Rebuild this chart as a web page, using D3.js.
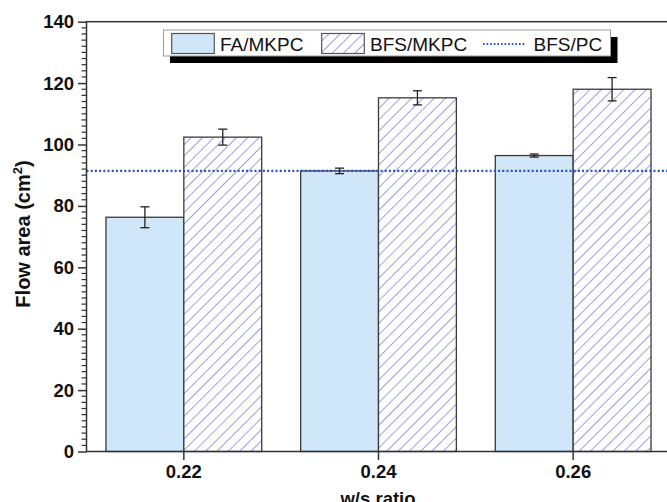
<!DOCTYPE html>
<html>
<head>
<meta charset="utf-8">
<script src="https://cdn.jsdelivr.net/npm/d3@7"></script>
<style>
  body { margin: 0; background: #fff; }
  svg { display: block; font-family: "Liberation Sans", Arial, sans-serif; }
</style>
</head>
<body>
<div id="chart"></div>
<script>
// data
const ratios = ["0.22", "0.24", "0.26"];
const series = ["FA/MKPC", "BFS/MKPC"];
const faValues = [76.3, 91.4, 96.4];
const faErrors = [3.4, 0.9, 0.5];
const bfsValues = [102.4, 115.2, 118.0];
const bfsErrors = [2.6, 2.3, 3.8];
const pcReference = 91.4;   // BFS/PC dotted line
const yTicks = [0, 20, 40, 60, 80, 100, 120, 140];

(function() {
  const width = 667, height = 502;
  const left = 86.5, right = 670.5, top = 21.7, bottom = 451.5;

  const svg = d3.select("#chart").append("svg")
    .attr("width", width)
    .attr("height", height);

  const defs = svg.append("defs");
  const hatch = defs.append("pattern")
    .attr("id", "hatch")
    .attr("patternUnits", "userSpaceOnUse")
    .attr("width", 8)
    .attr("height", 8)
    .attr("patternTransform", "rotate(45)");
  hatch.append("rect").attr("width", 8).attr("height", 8).attr("fill", "#fff");
  hatch.append("line")
    .attr("x1", 0).attr("y1", 0).attr("x2", 0).attr("y2", 8)
    .attr("stroke", "#3f3fc0")
    .attr("stroke-width", 1);

  const x = d3.scaleBand().domain(ratios).range([left, right]).padding(0);
  const xSub = d3.scaleBand().domain(series).range([0, x.bandwidth()])
    .paddingInner(0).paddingOuter(0.25);
  const y = d3.scaleLinear().domain([0, 140]).range([bottom, top]);

  const rows = ratios.map((r, i) => [
    { r, s: series[0], v: faValues[i], e: faErrors[i] },
    { r, s: series[1], v: bfsValues[i], e: bfsErrors[i] }
  ]).flat();

  const axisColor = "#333";

  // bars
  svg.append("g").selectAll("rect")
    .data(rows)
    .join("rect")
    .attr("x", d => x(d.r) + xSub(d.s))
    .attr("y", d => y(d.v))
    .attr("width", xSub.bandwidth())
    .attr("height", d => y(0) - y(d.v))
    .attr("fill", d => d.s === "FA/MKPC" ? "#d0e6f9" : "url(#hatch)")
    .attr("stroke", "#3a3a3a")
    .attr("stroke-width", 1.3);

  // reference line
  svg.append("line")
    .attr("x1", left).attr("x2", right)
    .attr("y1", y(pcReference)).attr("y2", y(pcReference))
    .attr("stroke", "#2350d8")
    .attr("stroke-width", 2.2)
    .attr("stroke-dasharray", "2,2.2");

  // error bars
  const eb = svg.append("g").attr("stroke", "#222").attr("stroke-width", 1.3);
  rows.forEach(d => {
    const cx = x(d.r) + xSub(d.s) + xSub.bandwidth() / 2;
    eb.append("line").attr("x1", cx).attr("x2", cx)
      .attr("y1", y(d.v + d.e)).attr("y2", y(d.v - d.e));
    [d.v + d.e, d.v - d.e].forEach(v => {
      eb.append("line").attr("x1", cx - 4.5).attr("x2", cx + 4.5)
        .attr("y1", y(v)).attr("y2", y(v));
    });
  });

  // frame
  svg.append("rect")
    .attr("x", left).attr("y", top)
    .attr("width", right - left).attr("height", bottom - top)
    .attr("fill", "none")
    .attr("stroke", axisColor)
    .attr("stroke-width", 1.5);

  // y axis
  const yAxis = svg.append("g")
    .attr("transform", `translate(${left},0)`)
    .call(d3.axisLeft(y).tickValues(yTicks).tickSize(8.5).tickPadding(4));
  yAxis.select(".domain").remove();
  yAxis.selectAll(".tick line").attr("stroke", axisColor).attr("stroke-width", 1.5);
  yAxis.selectAll(".tick text")
    .attr("fill", "#111")
    .style("font-size", "18.5px")
    .style("font-weight", "bold");

  const minor = d3.range(0, 141, 2).filter(v => v % 20 !== 0);
  svg.append("g").selectAll("line")
    .data(minor)
    .join("line")
    .attr("x1", left - 5).attr("x2", left)
    .attr("y1", d => y(d)).attr("y2", d => y(d))
    .attr("stroke", axisColor)
    .attr("stroke-width", 1.2);

  // x axis
  const xAxis = svg.append("g")
    .attr("transform", `translate(0,${bottom})`)
    .call(d3.axisBottom(x).tickSize(8.5).tickPadding(5));
  xAxis.select(".domain").remove();
  xAxis.selectAll(".tick line").attr("stroke", axisColor).attr("stroke-width", 1.5);
  xAxis.selectAll(".tick text")
    .attr("fill", "#111")
    .style("font-size", "18.5px")
    .style("font-weight", "bold");

  // axis titles
  svg.append("text")
    .attr("x", 378).attr("y", 505)
    .attr("text-anchor", "middle")
    .style("font-size", "18.5px")
    .style("font-weight", "bold")
    .attr("fill", "#111")
    .text("w/s ratio");

  const yt = svg.append("text")
    .attr("transform", "translate(30,234) rotate(-90)")
    .attr("text-anchor", "middle")
    .style("font-size", "20px")
    .style("font-weight", "bold")
    .attr("fill", "#111");
  yt.append("tspan").text("Flow area (cm");
  yt.append("tspan").attr("dy", -8).style("font-size", "13px").text("2");
  yt.append("tspan").attr("dy", 8).text(")");

  // legend
  const lg = svg.append("g");
  lg.append("rect")
    .attr("x", 170).attr("y", 37).attr("width", 447.5).attr("height", 26)
    .attr("fill", "#000");
  lg.append("rect")
    .attr("x", 163.5).attr("y", 30).attr("width", 447).attr("height", 26)
    .attr("fill", "#fff")
    .attr("stroke", "#999")
    .attr("stroke-width", 1);

  lg.append("rect")
    .attr("x", 171.7).attr("y", 33.5).attr("width", 42.6).attr("height", 20)
    .attr("fill", "#d0e6f9").attr("stroke", "#555").attr("stroke-width", 1.2);
  lg.append("rect")
    .attr("x", 321.7).attr("y", 33.5).attr("width", 42.6).attr("height", 20)
    .attr("fill", "url(#hatch)").attr("stroke", "#555").attr("stroke-width", 1.2);
  lg.append("line")
    .attr("x1", 483).attr("x2", 525).attr("y1", 44).attr("y2", 44)
    .attr("stroke", "#2350d8").attr("stroke-width", 2)
    .attr("stroke-dasharray", "1.6,2");

  const legendText = [
    { t: series[0], x: 220 },
    { t: series[1], x: 370 },
    { t: "BFS/PC", x: 533.5 }
  ];
  lg.selectAll("text.lt")
    .data(legendText)
    .join("text")
    .attr("class", "lt")
    .attr("x", d => d.x)
    .attr("y", 50.5)
    .style("font-size", "19px")
    .attr("fill", "#111")
    .text(d => d.t);
})();
</script>
</body>
</html>
